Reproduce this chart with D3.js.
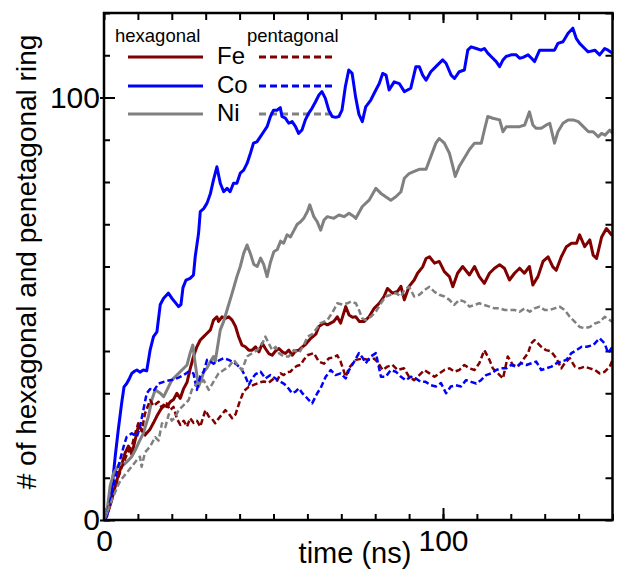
<!DOCTYPE html>
<html>
<head>
<meta charset="utf-8">
<script src="https://cdn.jsdelivr.net/npm/d3@7"></script>
<style>
body{margin:0;background:#fff;}
text{font-family:"Liberation Sans",Arial,sans-serif;fill:#000;}
</style>
</head>
<body>
<svg id="svg" width="621" height="570"></svg>
<script>
// [time (ns), count]
var feHex = [[0,0],[1,1.5],[2,4],[3,7],[4,10],[5,12.5],[6.2,15.8],[7.2,17.5],[8.2,15.5],[9.2,19],[10.1,22.1],[11.1,21.5],[12.1,20.1],[13.6,21.5],[14.6,23],[15.6,24.6],[16.6,26],[17.6,27.2],[18.6,26.8],[19.6,28],[20.5,28.5],[21.5,30],[22.5,28.8],[23.5,31.1],[24.5,32.6],[25.4,35.7],[26.4,38.7],[27.4,41],[28.4,42.6],[29.4,43.4],[30.4,44.2],[31.4,45],[32.3,47.3],[33.3,48.1],[33.8,47],[34.8,48.1],[35.8,47.7],[36.8,48.1],[37.8,47.3],[38.8,45.8],[39.7,43.4],[40.7,41.4],[41.7,41],[42.7,40.2],[43.7,40.2],[44.7,41],[45.7,39.8],[46.7,41.8],[47.6,40.6],[48.6,39.4],[49.6,39],[50.6,40],[51.6,40.6],[52.6,39.8],[53.5,39.4],[54.5,40.2],[55.5,39],[56.5,40],[57.5,40.2],[58,40.6],[59.5,41.6],[61,43],[62.5,44],[63.4,45.8],[64.9,46.6],[65.9,46.2],[67.8,47],[68.8,48.1],[69.8,46.6],[71.3,50.5],[72.3,48.5],[73.3,48],[74.3,48.1],[75.3,47],[76.8,47],[78.2,48.1],[79.7,50.1],[81.2,51.3],[82.6,52.9],[83.6,54.8],[85.1,53.7],[86.6,54.1],[87.6,55.3],[88.6,52.1],[90,55.3],[91.5,56.8],[92.5,58.4],[94,59.9],[95,61.9],[96,62.3],[97.5,60.8],[98.9,61.2],[100.4,58.8],[101.9,57.6],[102.9,55.2],[104.3,58.4],[105.8,60],[107.8,58],[109.3,60],[110.7,57.6],[112.2,56],[113.7,58.4],[115.2,59.6],[116.7,60.4],[118.1,59.6],[119.6,56.8],[121.1,58.4],[122.6,59.6],[124,58.4],[125.5,60],[126.5,55.6],[128,57.6],[129.5,61.2],[131,62.3],[132.4,59.9],[133.4,59.1],[134.9,62.3],[136.4,64.7],[137.9,65.5],[139.4,65.5],[140.3,67.5],[141.8,64.7],[143.3,66.3],[144.3,62.7],[145.3,61.9],[146.8,67],[148.2,69],[149.7,67.5],[150,67.5]];

var coHex = [[0,0],[0.8,0.8],[2.3,7],[3.3,15],[4.2,21.3],[5.2,27.6],[5.9,31.5],[6.7,32.3],[7.5,33.5],[8.2,34.7],[9,35.2],[9.7,35.5],[10.6,35],[11.6,35.5],[12.6,35.3],[13.6,40.2],[14.6,43.4],[15.6,44.5],[16.6,51],[17.6,52.5],[19,53.7],[20,52.5],[21,51.5],[22,50.5],[22.7,51],[23.3,55],[24.2,56.8],[25.4,57.2],[26.4,58],[26.9,62.3],[27.9,67.9],[28.4,73],[29.4,73.7],[30.4,75],[31.4,77.3],[32.3,80.5],[33.3,83.6],[34.3,79.7],[35.3,77.7],[36.3,78.5],[37.2,77.7],[38.2,79.7],[39.2,79.7],[40.2,82.1],[41.2,82.8],[42.2,84.4],[43.2,86.8],[44.1,89.2],[45.1,89.5],[46.1,90.7],[47.1,91.9],[48.1,93.1],[49.1,95.5],[50,97],[51,97],[52,97.6],[52.5,95.5],[53.5,95.1],[54.5,93.9],[55.5,94.3],[56.5,93.1],[57.4,91.5],[58.4,92.3],[59.4,94.7],[60.4,96.3],[61.4,97.5],[62.4,99],[63.4,100.6],[64.3,101.4],[65.3,99.8],[66.3,97],[67.3,95.5],[68.3,95.3],[69.3,95.5],[70.2,97],[71.2,102.6],[72.2,106.5],[73.2,105.7],[74.2,100.2],[75.2,96],[76.2,94.3],[77.2,97.8],[78.7,99.4],[79.7,101],[81.2,103.3],[82.2,105.7],[83.2,105.3],[84.1,101.8],[85.6,103.7],[87.1,103.3],[88.6,101.4],[90.5,102.2],[92,107.3],[93,107.3],[94,105.3],[95,104.1],[96.4,106.1],[97.9,107.3],[99.9,108.9],[100.9,108.1],[102.4,105.3],[103.4,104.5],[104.8,106.1],[106.3,106.5],[107.3,111.2],[108.3,112],[109.8,111.6],[111.2,111.2],[112.2,111.6],[113.2,110.5],[114.7,109.3],[115.7,108.5],[116.7,107.3],[117.7,108.9],[118.6,109.7],[120.1,110.1],[121.6,110.1],[122.6,109.3],[123.6,109.5],[125.1,110.1],[126.1,109.3],[127,108.5],[128.5,111.2],[130,111.2],[132.9,111.2],[133.9,112.8],[135.4,113.2],[136.9,115.2],[138.3,116.4],[139.3,114],[140.3,112.8],[141.8,111.6],[142.8,110.8],[144.8,111.2],[146.2,110.1],[147.7,111.6],[148.7,111.2],[150,110.5]];

var niHex = [[0,0],[0.8,1.6],[1.8,8],[2.8,11],[4.7,13.4],[5.7,13],[7,14],[8.2,15],[9.2,16.5],[10.1,18.1],[11.6,20.5],[13.1,24.5],[14.1,28.4],[15.1,30.8],[16.6,30],[17.6,29.2],[18.6,30.8],[20,33.1],[21.5,34.3],[23,35.5],[24.5,36.7],[25.4,39.5],[26.2,41.4],[26.9,37],[27.9,31.6],[28.9,33.7],[29.4,35],[30.4,36],[31.4,37.5],[32.3,38.7],[32.8,37.5],[33.3,40],[34.3,45],[35.3,47],[36.3,49.7],[37.8,53.7],[39.2,57.6],[40.2,60],[41.2,63.1],[42.2,65.1],[43.2,63],[44.2,60.5],[45.2,60],[46.2,62],[47.1,60.5],[48.1,57.6],[49.1,61],[50.1,63.5],[51.1,64],[52.1,66],[53,65.5],[54,67.5],[55,67],[56,68.5],[57,70],[58,70.6],[59,71.5],[60,73],[60.7,74.6],[61.9,71.8],[62.9,70.6],[63.9,68.6],[64.9,71],[65.9,71.8],[67.8,71.4],[69.3,72.2],[70.8,71.8],[72.3,72.6],[73.8,71.8],[74.3,71.4],[76.2,74.2],[78.2,75.7],[80.2,78.5],[81.7,77.3],[83.1,76.5],[84.6,75.7],[86.1,76.5],[87.6,77.7],[88.6,80.9],[90,82],[91.5,82.5],[93,83],[95,83],[96.4,86],[97.9,89.2],[98.9,90.3],[100.4,89.2],[101.9,86.8],[102.9,83.7],[103.6,81.3],[104.8,83.7],[106.3,85.7],[107.8,87.7],[109.3,89.2],[111.3,89.2],[112.2,92.3],[113.2,95.5],[114.7,95.1],[116.7,94.7],[117.7,91.9],[118.7,93.1],[120.6,93.1],[122.6,93.1],[124.1,93.5],[125.5,96.6],[126.5,93.5],[127.5,92.7],[129,92.7],[130.5,93.5],[131.5,93.9],[132.9,89.2],[133.9,91.9],[135.4,93.9],[136.9,94.7],[138.4,94.7],[139.9,94.3],[141.4,93.1],[142.9,91.9],[144.3,91.9],[145.8,90.7],[146.8,91.5],[147.8,91.1],[149.2,92.3],[150,91.5]];

var fePent = [[0,0],[1,1.5],[2,4],[3,7],[4,9.5],[5,12],[6,14],[7,16],[8.2,17.4],[9,20],[10.1,22.9],[11.1,21],[12.1,25.2],[13.6,28.4],[14.6,27],[16.1,28],[17.1,26.5],[18.5,27.6],[19.5,26],[20.5,26.8],[21.5,24],[22.5,22.5],[23.5,23.5],[24.5,22.1],[25.4,24.1],[26.4,23],[27.4,23.5],[28.4,22.1],[29.9,26],[30.9,24.5],[31.8,24],[32.8,22.9],[33.8,24],[34.8,25],[35.8,26],[36.8,25.2],[37.8,24.1],[38.8,25],[39.8,27.5],[41.2,30.5],[42.7,31.5],[44.2,32],[45.7,32.5],[47.1,32.8],[48.6,32.5],[50.1,33.5],[51.1,33],[52.1,34.7],[53,34.3],[54,35],[55,35.1],[56,36],[57,36.5],[58,36.7],[59,38],[60,39],[61.9,39.5],[63.4,37.5],[64.9,37],[66.4,38.3],[67.8,38.5],[68.8,39],[69.8,37.5],[71.3,33.9],[72.3,36],[73.8,37.5],[74.3,37.9],[76.2,38.2],[78.2,37.9],[79.7,38.2],[80.7,37.4],[82.2,35.5],[83.6,36.3],[85.1,36.7],[86.6,35.5],[88.5,35.9],[90,33.9],[91.5,33.1],[93,34.3],[94.5,35.5],[96,34.7],[97.5,33.9],[98.9,34.7],[100.4,35.5],[101.9,35.9],[103.4,35.1],[104.8,35.5],[106.3,36.7],[107.8,35.9],[109.3,35.5],[110.7,37.1],[112.2,40.2],[113.7,37.9],[114.7,35.9],[116.2,34.7],[117.7,33.5],[119.1,38.7],[120.6,36.7],[122.1,36.3],[123.6,37.9],[125.1,39.5],[126,41.8],[127,42.6],[128,41.8],[129,41],[130.4,40.2],[131.9,39.9],[133.4,38.3],[134.9,35.9],[135.9,37.1],[137.4,38.3],[138.9,36.3],[140.3,35.9],[141.8,36.3],[143.3,35.9],[144.8,35.5],[146.2,34.7],[147.7,35.1],[149.2,36.3],[150,37.9]];

var coPent = [[0,0],[1,2],[2,5],[3,9],[4,12],[5,15],[6,18],[6.7,19.7],[8.2,20.5],[9.7,19.7],[10.6,22],[11.6,26],[12.6,30],[13.6,31],[14.6,30.5],[16.1,32.3],[17.6,32.7],[19,33],[20.5,33.2],[22,33.7],[23.5,34.3],[24.9,35.1],[26.4,34.7],[27.4,30.8],[28.4,34],[29.4,35.1],[30.4,37.9],[31.4,37.5],[32.3,37],[33.8,37.7],[35.3,38.3],[36.8,37.9],[38.3,37.3],[39.3,36.7],[40.7,35.5],[41.7,34],[42.7,32],[43.7,33.5],[44.7,34.5],[46.2,35.1],[47.6,33.5],[49.1,34.3],[50.6,33.5],[52.1,32.7],[53,32.3],[54,31.6],[55.5,30],[56.5,30.4],[57.5,31.2],[58.5,30],[59.4,29.3],[60.4,28.4],[61.4,27.6],[62.9,30],[63.9,31.2],[65.4,33.9],[66.9,35.5],[68.3,34.3],[69.8,34.7],[71.3,33.5],[72.3,35.5],[73.8,37.5],[75.2,39.5],[76.2,38.5],[77.2,37.1],[78.7,38.7],[80.2,39.5],[81.7,33.9],[83.1,33.9],[84.6,35.5],[86.1,35.1],[87.6,33.9],[89,33.1],[90.5,33.9],[92,33.5],[93.4,32.7],[94.9,32.7],[96.4,31.9],[97.9,31.6],[99.4,32.4],[100.9,30],[102.3,31.6],[103.8,31.9],[105.3,31.6],[106.8,33.1],[108.3,32.7],[109.8,32.3],[111.2,33.1],[112.7,34.3],[114.2,34.7],[115.7,35.5],[117.2,35.9],[118.7,35.9],[120.1,36.7],[121.6,36.3],[123.1,37.1],[124.6,36.7],[126.1,37.1],[127.5,37.5],[129,35.5],[130.5,35.9],[132,36.3],[133.5,37.1],[134.9,37.5],[136.4,37.9],[137.9,39.5],[139.4,40.2],[140.9,41],[142.4,41],[144.3,41.4],[146.2,43],[147.7,41.8],[148.7,39.5],[150,41]];

var niPent = [[0,0],[1,2],[2,4],[3,6],[4,8],[5,9.5],[6,10.5],[7,11.5],[8,12.5],[9,13.5],[10,14.5],[10.6,15],[11.1,12.6],[12.1,16],[13.6,17.4],[15.1,19.6],[16.1,18.8],[17.1,22.9],[18.1,22],[19.1,25],[20,23.5],[21,24.3],[22,26],[23,26.8],[24,27.6],[25,28.4],[25.9,30.8],[27.4,32.3],[28.4,32.3],[29.4,33.1],[30.9,30.8],[32.3,32.7],[33.8,34.7],[35.3,35.5],[36.8,36.3],[38.3,37.9],[39.8,36.3],[40.7,35.5],[42.2,38.7],[43.7,39.5],[45.2,40.2],[46.7,41.8],[47.6,43.4],[48.6,41.8],[49.6,40.2],[50.6,41],[51.6,39.5],[53,38.7],[54.5,38.7],[56,40.2],[57.5,39.5],[59,41.5],[60,43.4],[61.5,44],[63.9,46.6],[65.9,47.3],[67.8,49.7],[68.8,51.3],[70.3,51],[71.8,51.3],[72.8,51.7],[74.3,51.3],[75.2,49.7],[76.2,47.7],[77.2,47.3],[78.7,48.1],[80.2,49.3],[81.7,51.3],[83.1,52.9],[84.6,53.3],[86.1,53.7],[87.6,52.9],[88.6,54.5],[90,55.2],[91.5,52.9],[93,53.3],[94.5,54.4],[96,55.2],[97.5,54],[98.9,53.3],[100.4,52.9],[101.9,52.1],[103.3,50.9],[104.8,52.1],[106.3,51.7],[107.8,50.5],[109.3,50.9],[110.7,51.3],[112.2,50.9],[113.7,50.5],[115.2,50.1],[116.7,50.1],[118.2,49.7],[119.6,49.7],[121.1,49.7],[122.6,49.3],[124.1,50.1],[125.6,49.3],[127,50.1],[128.5,50.5],[130,49.7],[131.5,49.7],[132.9,50.1],[134.4,50.5],[135.9,49.7],[137.4,48.1],[138.9,46.9],[140.3,45.7],[141.8,45.4],[143.3,45.7],[144.8,46.5],[146.2,46.9],[147.7,48.1],[149.2,47.3],[150,46.9]];

var metals = ["Fe", "Co", "Ni"];
var metalColors = ["#800000", "#0000ff", "#808080"];
var xMinorTicks = d3.range(0, 151, 10);
var yMinorTicks = d3.range(0, 121, 10);
var xLabelTicks = [0, 100];
var yLabelTicks = [0, 100];

var margin = {top: 13, left: 104, right: 8.5, bottom: 50};
var width = 621 - margin.left - margin.right;
var height = 570 - margin.top - margin.bottom;

var svg = d3.select("#svg");
var x = d3.scaleLinear().domain([0, 150]).range([margin.left, margin.left + width]);
var y = d3.scaleLinear().domain([0, 120]).range([margin.top + height, margin.top]);

var series = [
	{data: feHex, color: metalColors[0], dash: null},
	{data: coHex, color: metalColors[1], dash: null},
	{data: niHex, color: metalColors[2], dash: null},
	{data: fePent, color: metalColors[0], dash: "6,3"},
	{data: coPent, color: metalColors[1], dash: "6,3"},
	{data: niPent, color: metalColors[2], dash: "6,3"}
];

function styleAxis(g){
	g.select(".domain").remove();
	g.selectAll(".tick line").attr("stroke", "#000").attr("stroke-width", 2);
	g.selectAll(".tick text").style("font-size", "30px").style("font-family", "'Liberation Sans', Arial, sans-serif");
}

// inward ticks on all four sides
var bottomY = margin.top + height;
var rightX = margin.left + width;

svg.append("g").attr("transform", "translate(0," + bottomY + ")")
	.call(d3.axisBottom(x).tickValues(xMinorTicks).tickSize(-6).tickSizeOuter(0).tickFormat(""))
	.call(styleAxis);
svg.append("g").attr("transform", "translate(0," + bottomY + ")")
	.call(d3.axisBottom(x).tickValues(xLabelTicks).tickSize(-12).tickSizeOuter(0).tickPadding(10).tickFormat(d3.format("d")))
	.call(styleAxis);

svg.append("g").attr("transform", "translate(" + margin.left + ",0)")
	.call(d3.axisLeft(y).tickValues(yMinorTicks).tickSize(-6).tickSizeOuter(0).tickFormat(""))
	.call(styleAxis);
var yMajor = svg.append("g").attr("transform", "translate(" + margin.left + ",0)")
	.call(d3.axisLeft(y).tickValues(yLabelTicks).tickSize(-11).tickSizeOuter(0).tickPadding(4).tickFormat(d3.format("d")))
	.call(styleAxis);
yMajor.selectAll(".tick line").attr("x1", -4);

svg.append("g").attr("transform", "translate(0," + margin.top + ")")
	.call(d3.axisTop(x).tickValues(xMinorTicks).tickSize(-7).tickSizeOuter(0).tickFormat(""))
	.call(styleAxis);
svg.append("g").attr("transform", "translate(0," + margin.top + ")")
	.call(d3.axisTop(x).tickValues([100]).tickSize(-10).tickSizeOuter(0).tickFormat(""))
	.call(styleAxis);
svg.append("g").attr("transform", "translate(" + rightX + ",0)")
	.call(d3.axisRight(y).tickValues(yMinorTicks).tickSize(-7).tickSizeOuter(0).tickFormat(""))
	.call(styleAxis);

// legend (drawn under the data)
var legend = svg.append("g");
legend.append("text").attr("x", 115).attr("y", 42).style("font-size", "18.5px").text("hexagonal");
legend.append("text").attr("x", 247).attr("y", 42).style("font-size", "18.5px").text("pentagonal");
var legendRows = [57, 86, 114];
for(var i = 0; i < metals.length; i++){
	var ly = legendRows[i];
	legend.append("line").attr("x1", 128).attr("x2", 203).attr("y1", ly).attr("y2", ly)
		.attr("stroke", metalColors[i]).attr("stroke-width", 3);
	legend.append("line").attr("x1", 259).attr("x2", 333).attr("y1", ly).attr("y2", ly)
		.attr("stroke", metalColors[i]).attr("stroke-width", 3).attr("stroke-dasharray", "7,4");
	legend.append("text").attr("x", 217).attr("y", ly + 7).style("font-size", "24px").text(metals[i]);
}

var line = d3.line()
	.x(function(d){ return x(d[0]); })
	.y(function(d){ return y(d[1]); });

svg.append("g").selectAll("path").data(series).enter().append("path")
	.attr("d", function(d){ return line(d.data); })
	.attr("fill", "none")
	.attr("stroke", function(d){ return d.color; })
	.attr("stroke-width", function(d){ return d.dash ? 2.5 : 3; })
	.attr("stroke-linejoin", "round")
	.attr("stroke-dasharray", function(d){ return d.dash; });

// frame
svg.append("rect").attr("x", margin.left).attr("y", margin.top).attr("width", width).attr("height", height)
	.attr("fill", "none").attr("stroke", "#000").attr("stroke-width", 2.5);

// axis titles
svg.append("text").attr("x", 355).attr("y", 563).attr("text-anchor", "middle")
	.style("font-size", "29px").text("time (ns)");
svg.append("text").attr("transform", "translate(36," + 262 + ") rotate(-90)").attr("text-anchor", "middle")
	.style("font-size", "28px").text("# of hexagonal and penetagonal ring");
</script>
</body>
</html>
